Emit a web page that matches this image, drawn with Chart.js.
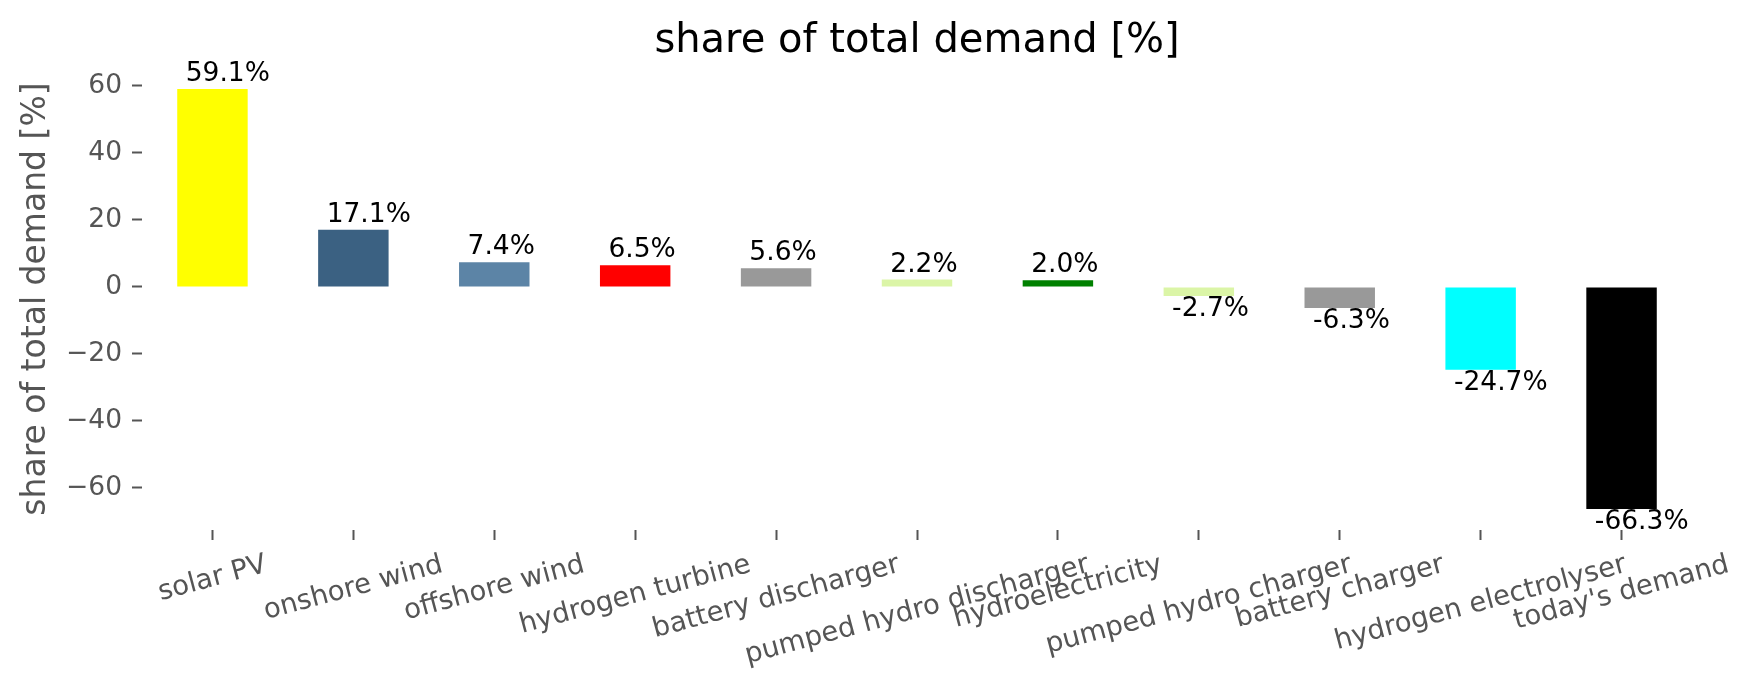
<!DOCTYPE html>
<html>
<head>
<meta charset="utf-8">
<script src="https://cdn.jsdelivr.net/npm/chart.js@4"></script>
<style>
  html, body { margin: 0; padding: 0; background: #ffffff; }
  #c { display: block; }
</style>
</head>
<body>
<canvas id="c" width="1753" height="689"></canvas>
<script>
const categories = ["solar PV", "onshore wind", "offshore wind", "hydrogen turbine", "battery discharger",
  "pumped hydro discharger", "hydroelectricity", "pumped hydro charger", "battery charger",
  "hydrogen electrolyser", "today's demand"];
const shares = [59.1, 17.1, 7.4, 6.5, 5.6, 2.2, 2.0, -2.7, -6.3, -24.7, -66.3];
const barColors = ["#ffff00", "#3b6182", "#5c84a6", "#ff0000", "#999999",
  "#dbf5a7", "#008000", "#dbf5a7", "#999999", "#00ffff", "#000000"];
const yTickValues = [-60, -40, -20, 0, 20, 40, 60];
const chartTitle = "share of total demand [%]";
const yAxisTitle = "share of total demand [%]";

const FONT = "'DejaVu Sans', 'Liberation Sans', sans-serif";
const GREY = "#555555";

const dataMin = Math.min(...shares), dataMax = Math.max(...shares);
const margin = (dataMax - dataMin) * 0.05;

const decorPlugin = {
  id: 'decor',
  afterDraw(chart) {
    const ctx = chart.ctx;
    const area = chart.chartArea;
    const xs = chart.scales.x;
    // title
    ctx.save();
    ctx.fillStyle = "#000000";
    ctx.font = "40px " + FONT;
    ctx.textAlign = "center";
    ctx.textBaseline = "alphabetic";
    ctx.fillText(chartTitle, (area.left + area.right) / 2, 52);
    ctx.restore();
    // y axis title
    ctx.save();
    ctx.fillStyle = GREY;
    ctx.font = "33px " + FONT;
    ctx.translate(45, (area.top + area.bottom) / 2);
    ctx.rotate(-Math.PI / 2);
    ctx.textAlign = "center";
    ctx.textBaseline = "alphabetic";
    ctx.fillText(yAxisTitle, 0, 0);
    ctx.restore();
    // x tick labels, rotated 15 deg, centred bbox under tick
    const fs = 27.5;
    const rot = 15 * Math.PI / 180;
    ctx.save();
    ctx.fillStyle = GREY;
    ctx.font = fs + "px " + FONT;
    const top = area.bottom + 10 + 9;
    categories.forEach((lab, i) => {
      const x = xs.getPixelForTick(i);
      const w = ctx.measureText(lab).width;
      const h = fs * 1.17;
      const bh = w * Math.sin(rot) + h * Math.cos(rot);
      ctx.save();
      ctx.translate(x, top + bh / 2);
      ctx.rotate(-rot);
      ctx.textAlign = "center";
      ctx.textBaseline = "middle";
      ctx.fillText(lab, 0, 0);
      ctx.restore();
    });
    ctx.restore();
  },
  afterDatasetsDraw(chart) {
    const ctx = chart.ctx;
    const meta = chart.getDatasetMeta(0);
    ctx.save();
    ctx.fillStyle = "#000000";
    ctx.font = "26.5px " + FONT;
    ctx.textAlign = "left";
    ctx.textBaseline = "alphabetic";
    meta.data.forEach((bar, i) => {
      const v = shares[i];
      const p = bar.getProps(['x', 'y', 'base', 'width'], true);
      const left = p.x - p.width / 2;
      const txt = v.toFixed(1) + "%";
      if (v >= 0) {
        ctx.fillText(txt, left + 8.5, Math.min(p.y, p.base) - 8);
      } else {
        ctx.fillText(txt, left + 8.5, Math.max(p.y, p.base) + 20);
      }
    });
    ctx.restore();
  }
};

new Chart(document.getElementById('c'), {
  type: 'bar',
  data: {
    labels: categories,
    datasets: [{
      data: shares,
      backgroundColor: barColors,
      borderWidth: 0,
      barPercentage: 0.5,
      categoryPercentage: 1.0
    }]
  },
  options: {
    responsive: false,
    devicePixelRatio: 1,
    animation: false,
    layout: { padding: { top: 68, right: 61, left: 0, bottom: 0 } },
    plugins: { legend: { display: false }, title: { display: false }, tooltip: { enabled: false } },
    scales: {
      x: {
        offset: true,
        grid: { display: true, offset: false, drawOnChartArea: false, drawTicks: true,
                tickLength: 10, tickColor: GREY, tickWidth: 2 },
        border: { display: false },
        ticks: { display: false },
        afterFit(s) { s.height = 159; }
      },
      y: {
        min: dataMin - margin,
        max: dataMax + margin,
        grid: { display: true, drawOnChartArea: false, drawTicks: true,
                tickLength: 10, tickColor: GREY, tickWidth: 2 },
        border: { display: false },
        afterBuildTicks(s) { s.ticks = yTickValues.map(v => ({ value: v })); },
        ticks: {
          color: GREY,
          font: { family: FONT, size: 26.5 },
          padding: 10,
          callback: (v) => (v < 0 ? "\u2212" + Math.abs(v) : String(v))
        },
        afterFit(s) { s.width = 142; }
      }
    }
  },
  plugins: [decorPlugin]
});
</script>
</body>
</html>
